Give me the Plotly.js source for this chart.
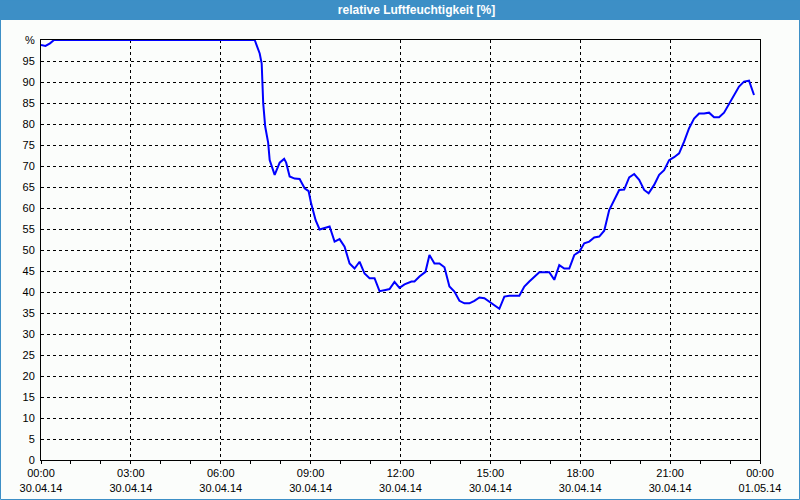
<!DOCTYPE html>
<html>
<head>
<meta charset="utf-8">
<script src="https://cdn.plot.ly/plotly-3.0.1.min.js"></script>
<style>
html,body{margin:0;padding:0;background:#fbfdfb;}
#chart{width:800px;height:500px;}
</style>
</head>
<body>
<div id="chart"></div>
<script>
const day = "2014-04-30";
const times = [
 "00:00","00:09","00:18","00:26","07:08","07:18","07:22","07:23","07:25","07:29",
 "07:35","07:38","07:43","07:48","07:58","08:07","08:11","08:18","08:28","08:38",
 "08:48","08:56","09:01","09:10","09:18","09:28","09:38","09:48","09:58","10:08",
 "10:18","10:28","10:38","10:48","10:58","11:08","11:18","11:30","11:38","11:48",
 "11:58","12:08","12:22","12:28","12:38","12:50","12:58","13:08","13:18","13:28",
 "13:38","13:48","13:58","14:08","14:18","14:28","14:38","14:48","14:58","15:08",
 "15:18","15:28","15:38","15:58","16:08","16:18","16:31","16:38","16:58","17:08",
 "17:18","17:28","17:38","17:48","17:58","18:08","18:18","18:28","18:38","18:48",
 "18:58","19:08","19:18","19:28","19:38","19:48","19:58","20:08","20:17","20:28",
 "20:38","20:48","20:58","21:08","21:18","21:28","21:38","21:48","21:58","22:08",
 "22:18","22:28","22:38","22:48","22:58","23:08","23:18","23:28","23:38","23:48"
];
const humidity = [
 98.8,98.6,99.2,100,100,96.8,94.4,90.5,85,79.4,
 75.5,71.4,69.8,67.9,70.8,71.7,70.8,67.5,67,66.9,
 64.7,64,61.1,57.1,54.9,55.3,55.6,52,52.6,50.8,
 46.8,45.6,47.2,44.4,43.3,43.3,40.2,40.5,40.7,42.4,
 41,41.8,42.5,42.5,43.7,44.8,48.8,46.8,46.8,45.9,
 41.3,40.1,37.9,37.3,37.3,37.9,38.7,38.5,37.7,36.9,
 36,38.9,39.1,39.1,41.3,42.5,44,44.7,44.7,42.9,
 46.4,45.6,45.6,48.8,49.6,51.6,52,53,53.2,54.6,
 59.5,61.9,64.3,64.4,67.3,68.1,66.7,64.3,63.5,65.5,
 67.9,69,71.4,72.1,73,75.8,79,81.3,82.5,82.5,
 82.7,81.6,81.6,82.7,84.8,86.9,88.9,90.1,90.3,86.9
];
const yTickVals = [0,5,10,15,20,25,30,35,40,45,50,55,60,65,70,75,80,85,90,95,100];
const yTickText = ["0","5","10","15","20","25","30","35","40","45","50","55","60","65","70","75","80","85","90","95","%"];
const titleText = "relative Luftfeuchtigkeit [%]";

const x = times.map(t => day + " " + t);

const W = 719, H = 420; // plot area px
const px = v => (v - 41) / W;
const py = v => (460 - v) / H;

const trace = {
  x: x, y: humidity, type: "scatter", mode: "lines",
  line: {color: "#0000ff", width: 2}, hoverinfo: "skip"
};

const layout = {
  width: 800, height: 500,
  margin: {l: 41, r: 40, t: 40, b: 40, pad: 0},
  paper_bgcolor: "#fbfdfb", plot_bgcolor: "#fbfdfb",
  showlegend: false,
  font: {family: "Liberation Sans, Arial, sans-serif", size: 11, color: "#000"},
  title: {
    text: titleText, x: 416.5/800, xanchor: "center", y: 1 - 10/500, yanchor: "middle",
    xref: "container", yref: "container",
    font: {family: "Liberation Sans, Arial, sans-serif", size: 12, color: "#ffffff", weight: "bold"}
  },
  xaxis: {
    type: "date",
    range: ["2014-04-30 00:00", "2014-05-01 00:00"],
    dtick: 3*3600000, tick0: "2014-04-30 00:00",
    tickformat: "%H:%M<br>%d.%m.%y",
    ticks: "outside", ticklen: 3, tickcolor: "#000", tickwidth: 1,
    minor: {dtick: 3600000, ticks: "outside", ticklen: 3, tickcolor: "#000", showgrid: false},
    showgrid: true, gridcolor: "#000", gridwidth: 1, griddash: "3px,3px",
    showline: true, linecolor: "#000", linewidth: 1, mirror: true,
    zeroline: false, fixedrange: true,
    tickfont: {family: "Liberation Sans, Arial, sans-serif", size: 11, color: "#000"}
  },
  yaxis: {
    range: [0, 100],
    tickmode: "array", tickvals: yTickVals, ticktext: yTickText,
    ticks: "", ticklabelstandoff: 3,
    showgrid: true, gridcolor: "#000", gridwidth: 1, griddash: "3px,3px",
    showline: true, linecolor: "#000", linewidth: 1, mirror: true,
    zeroline: false, fixedrange: true,
    tickfont: {family: "Liberation Sans, Arial, sans-serif", size: 11, color: "#000"}
  },
  shapes: [
    {type: "rect", xref: "paper", yref: "paper", layer: "above",
     x0: px(0), x1: px(800), y0: py(20), y1: py(0),
     fillcolor: "#3d8fc6", line: {width: 0}},
    {type: "rect", xref: "paper", yref: "paper", layer: "above",
     x0: px(0.5), x1: px(799.5), y0: py(499.5), y1: py(0),
     fillcolor: "rgba(0,0,0,0)", line: {color: "#3d8fc6", width: 1}}
  ]
};

Plotly.newPlot("chart", [trace], layout, {displayModeBar: false, staticPlot: true});
</script>
</body>
</html>
